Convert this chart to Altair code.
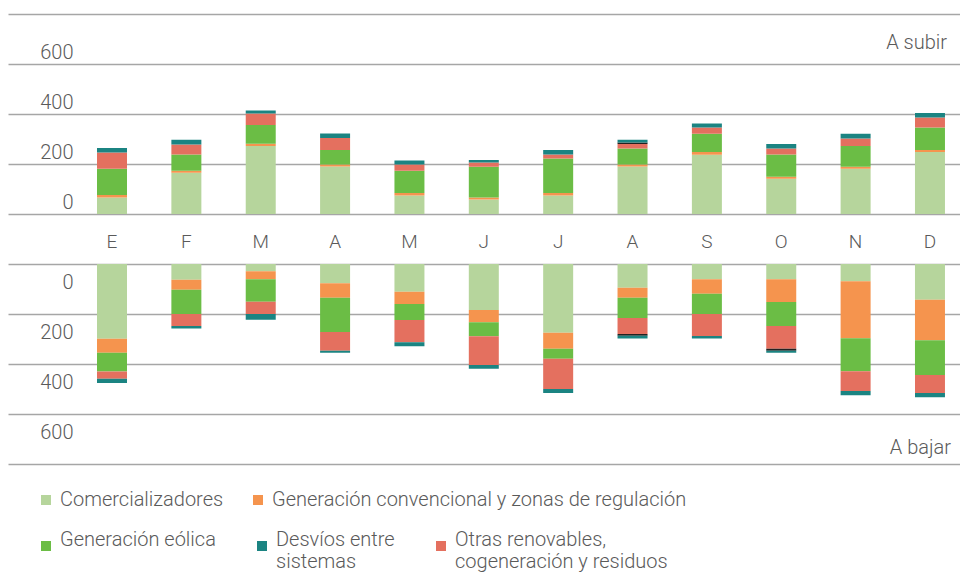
import altair as alt
import pandas as pd

meses = ["Ene", "Feb", "Mar", "Abr", "May", "Jun", "Jul", "Ago", "Sep", "Oct", "Nov", "Dic"]

series = [
    "Comercializadores",
    "Generación convencional y zonas de regulación",
    "Generación eólica",
    "Otras renovables, cogeneración y residuos",
    "Otros",
    "Desvíos entre sistemas",
]

# A subir (valores aproximados)
subir_com = [66, 165, 272, 190, 74, 58, 74, 190, 237, 141, 181, 248]
subir_conv = [10, 8, 9, 8, 10, 8, 10, 8, 11, 8, 8, 8]
subir_eol = [105, 65, 75, 58, 89, 123, 138, 64, 73, 89, 83, 90]
subir_otras = [65, 40, 46, 48, 25, 17, 16, 18, 25, 24, 30, 40]
subir_otros = [0, 0, 0, 0, 0, 0, 0, 6, 0, 0, 0, 0]
subir_desv = [18, 19, 12, 18, 16, 10, 18, 11, 16, 18, 19, 18]

# A bajar
bajar_com = [299, 63, 29, 77, 111, 184, 275, 95, 61, 61, 69, 143]
bajar_conv = [56, 40, 32, 58, 49, 49, 64, 40, 58, 91, 228, 162]
bajar_eol = [75, 97, 90, 137, 64, 56, 40, 81, 81, 96, 132, 139]
bajar_otras = [29, 48, 49, 75, 89, 115, 121, 64, 88, 91, 79, 72]
bajar_otros = [0, 0, 0, 0, 0, 0, 0, 7, 0, 8, 0, 0]
bajar_desv = [17, 10, 23, 8, 16, 15, 16, 11, 10, 8, 17, 17]

dominio = [
    "Comercializadores",
    "Generación convencional y zonas de regulación",
    "Generación eólica",
    "Desvíos entre sistemas",
    "Otras renovables, cogeneración y residuos",
    "Otros",
]
rango = ["#b6d59c", "#f5944e", "#6bbd45", "#1b8482", "#e4705f", "#222222"]


def tabla(cols):
    filas = []
    for idx, (s, vals) in enumerate(zip(series, cols)):
        for m, v in zip(meses, vals):
            filas.append({"mes": m, "serie": s, "valor": v, "orden": idx})
    return pd.DataFrame(filas)


df_sub = tabla([subir_com, subir_conv, subir_eol, subir_otras, subir_otros, subir_desv])
df_baj = tabla([bajar_com, bajar_conv, bajar_eol, bajar_otras, bajar_otros, bajar_desv])

FONT = "Roboto"
TXT = "#5a5a5a"
W, H = 952, 200

xscale = alt.Scale(paddingInner=0.5966, paddingOuter=0.6996, align=0.8555)

label_expr_1 = "datum.label"
label_expr_2 = (
    "datum.label == 'Desvíos entre sistemas' ? ['Desvíos entre', 'sistemas'] : "
    "datum.label == 'Otras renovables, cogeneración y residuos' ? "
    "['Otras renovables,', 'cogeneración y residuos'] : [datum.label, '']"
)


def leyenda(valores, y, pad, baseline, expr):
    return alt.Legend(
        title=None,
        orient="none",
        direction="horizontal",
        legendX=28,
        legendY=y,
        columns=len(valores),
        columnPadding=pad,
        padding=0,
        values=valores,
        symbolType="square",
        symbolSize=100,
        symbolStrokeWidth=0,
        symbolOpacity=1,
        labelFont=FONT,
        labelFontWeight=300,
        labelFontSize=20,
        labelColor=TXT,
        labelLimit=700,
        labelOffset=4,
        labelBaseline=baseline,
        labelExpr=expr,
    )


def yaxis(offset):
    return alt.Axis(
        values=[0, 200, 400, 600, 800],
        title=None,
        grid=True,
        gridColor="#a6a6a6",
        gridWidth=1.6,
        domain=False,
        ticks=False,
        tickSize=0,
        labelPadding=-65,
        labelAlign="right",
        labelBaseline="alphabetic",
        labelOffset=offset,
        labelFont=FONT,
        labelFontWeight=300,
        labelFontSize=20,
        labelColor=TXT,
        labelExpr="datum.value == 800 ? '' : datum.label",
    )


escala_color = alt.Scale(domain=dominio, range=rango)

barras_sub = alt.Chart(df_sub).mark_bar().encode(
    x=alt.X(
        "mes:N",
        sort=meses,
        scale=xscale,
        axis=alt.Axis(
            title=None,
            domain=False,
            ticks=False,
            grid=False,
            labelAngle=0,
            labelPadding=18,
            labelBaseline="top",
            labelFont=FONT,
            labelFontWeight=300,
            labelFontSize=19,
            labelColor=TXT,
            labelExpr="substring(datum.label, 0, 1)",
        ),
    ),
    y=alt.Y("valor:Q", stack="zero", scale=alt.Scale(domain=[0, 800], nice=False), axis=yaxis(-6)),
    color=alt.Color(
        "serie:N",
        scale=escala_color,
        legend=leyenda(dominio[:2], 476, 24, "middle", label_expr_1),
    ),
    order=alt.Order("orden:Q", sort="ascending"),
)

txt_sub = alt.Chart(pd.DataFrame({"t": ["A subir"]})).mark_text(
    align="right", baseline="alphabetic", font=FONT, fontWeight=300, fontSize=20, color=TXT
).encode(text="t:N", x=alt.value(939), y=alt.datum(660))

top = alt.layer(barras_sub, txt_sub).properties(width=W, height=H)

barras_baj = alt.Chart(df_baj).mark_bar().encode(
    x=alt.X("mes:N", sort=meses, scale=xscale, axis=None),
    y=alt.Y(
        "valor:Q",
        stack="zero",
        scale=alt.Scale(domain=[0, 800], nice=False, reverse=True),
        axis=yaxis(24),
    ),
    color=alt.Color(
        "serie:N",
        scale=escala_color,
        legend=leyenda(dominio[2:5], 272, 36, "alphabetic", label_expr_2),
    ),
    order=alt.Order("orden:Q", sort="ascending"),
)

txt_baj = alt.Chart(pd.DataFrame({"t": ["A bajar"]})).mark_text(
    align="right", baseline="alphabetic", font=FONT, fontWeight=300, fontSize=20, color=TXT
).encode(text="t:N", x=alt.value(943), y=alt.datum(760))

bottom = alt.layer(barras_baj, txt_baj).properties(width=W, height=H)

chart = (
    alt.vconcat(top, bottom, spacing=50, bounds="flush")
    .resolve_scale(color="independent")
    .properties(padding={"top": 6, "left": 0, "right": 0, "bottom": 0}, background="white")
    .configure_view(stroke=None)
)

chart.save("out.html", embed_options={"renderer": "svg", "actions": False})
